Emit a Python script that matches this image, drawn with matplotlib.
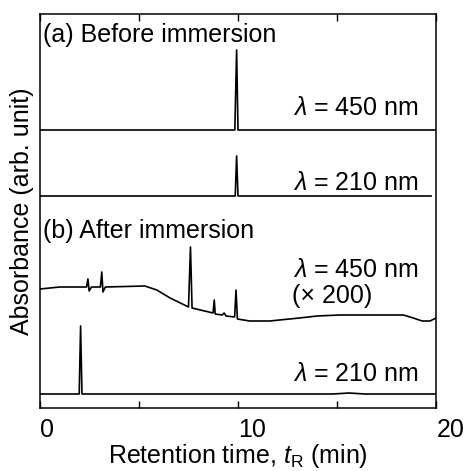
import numpy as np
import matplotlib
matplotlib.use('Agg')
import matplotlib.pyplot as plt
from matplotlib.transforms import ScaledTranslation

plt.rcParams['font.family'] = ['Liberation Sans', 'DejaVu Sans']
plt.rcParams['mathtext.fontset'] = 'custom'
plt.rcParams['mathtext.rm'] = 'Liberation Sans'
plt.rcParams['mathtext.it'] = 'Liberation Sans:italic'
plt.rcParams['font.size'] = 18

# (a) before immersion, 450 nm
a450_t = [0.0, 9.84, 9.93, 10.0, 20.0]
a450_y = [278, 278, 358, 278, 278]

# (a) before immersion, 210 nm
a210_t = [0.0, 9.86, 9.93, 10.0, 19.75]
a210_y = [212, 212, 252, 212, 212]

# (b) after immersion, 450 nm (x 200)
b450_t = [0.0, 1.0, 2.35, 2.42, 2.48, 2.6, 3.05, 3.12, 3.18, 3.3, 5.3, 5.9, 6.57, 7.5,
          7.6, 7.68, 8.74, 8.8, 8.85, 9.2, 9.3, 9.4, 9.83, 9.9, 9.97, 10.6, 10.94,
          11.6, 13.1, 14.0, 15.15, 18.35, 18.85, 19.3, 19.7, 20.0]
b450_y = [119, 121, 121, 129, 117, 121, 121, 136, 116, 121, 122, 118, 110, 101,
          161, 100, 95, 108, 94, 93, 95, 92, 91, 118, 89, 87, 87,
          87, 90, 92, 93, 93, 90, 87, 87, 90]

# (b) after immersion, 210 nm
b210_t = [0.0, 1.98, 2.05, 2.12, 14.8, 15.6, 16.4, 20.0]
b210_y = [14, 14, 82, 14, 14, 15, 14, 14]

fig = plt.figure(figsize=(4.65, 4.71), dpi=100)
ax = fig.add_axes([40 / 465, 63 / 471, 396 / 465, 394 / 471])

for t, y in [(a450_t, a450_y), (a210_t, a210_y), (b450_t, b450_y), (b210_t, b210_y)]:
    ax.plot(t, y, color='black', lw=1.2)

ax.set_xlim(0, 20)
ax.set_ylim(0, 394)

ax.text(0.15, 366, '(a) Before immersion', ha='left', va='baseline')
ax.text(19.1, 293, r'$\lambda$ = 450 nm', ha='right', va='baseline')
ax.text(19.1, 218, r'$\lambda$ = 210 nm', ha='right', va='baseline')
ax.text(0.15, 170, '(b) After immersion', ha='left', va='baseline')
ax.text(19.1, 131, r'$\lambda$ = 450 nm', ha='right', va='baseline')
ax.text(12.75, 105, '(× 200)', ha='left', va='baseline')
ax.text(19.1, 27, r'$\lambda$ = 210 nm', ha='right', va='baseline')

ax.set_xticks([0, 10, 20])
ax.set_xticks([5, 15], minor=True)
ax.set_yticks([])
ax.tick_params(axis='x', which='both', direction='in', top=True, length=5,
               width=1.0, pad=7)
for lab, dx in zip(ax.get_xticklabels(), [7, 14, 15]):
    lab.set_transform(lab.get_transform() + ScaledTranslation(dx / 100, 0, fig.dpi_scale_trans))

for s in ax.spines.values():
    s.set_linewidth(1.1)

ax.set_xlabel(r'Retention time, $t_\mathrm{R}$ (min)', labelpad=0)
ax.set_ylabel('Absorbance (arb. unit)', labelpad=4)

fig.savefig('out.png', dpi=100)
